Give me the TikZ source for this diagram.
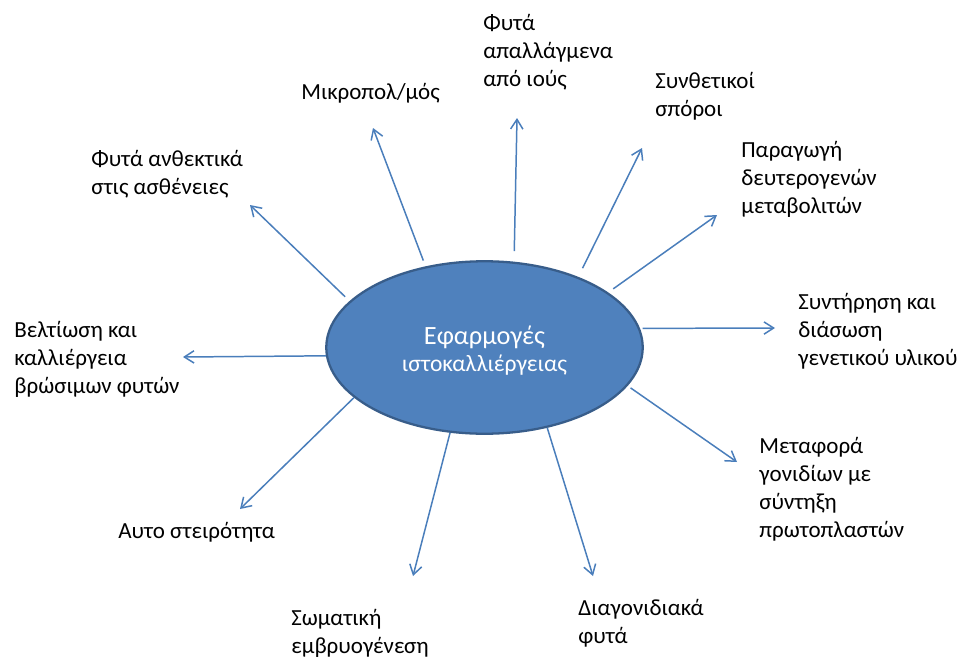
\documentclass[tikz,border=0pt]{standalone}
\usepackage{fontspec}
\setmainfont{Carlito}
\usetikzlibrary{arrows.meta,shapes.geometric}
\definecolor{ellfill}{HTML}{4F81BD}
\definecolor{elldraw}{HTML}{385D8A}
\definecolor{fleche}{HTML}{4A7EBB}
\tikzset{
  lbl/.style={anchor=base west, align=left, inner sep=0pt, font=\fontsize{13.1}{15.9}\selectfont},
  fl/.style={draw=fleche, line width=0.85pt, -{Straight Barb[length=5.5pt,width=7pt]}}
}
\begin{document}
\begin{tikzpicture}[x=0.02cm, y=-0.02cm]
\useasboundingbox (0,0) rectangle (960,656);
\node [ellipse, fill=ellfill, draw=elldraw, line width=1.3pt, minimum width=6.33cm, minimum height=3.45cm, inner sep=0pt] (appl) at (484.5,347.5) {};
\node [anchor=base, align=center, inner sep=0pt, text=white] (appltxt) at (484.5,371)
  {\fontsize{15}{15.9}\selectfont Εφαρμογές\\[3pt] \fontsize{13.4}{15.9}\selectfont ιστοκαλλιέργειας};
% labels placed by the baseline of their last line
\node [lbl] (lab1) at (483,86) {Φυτά\\απαλλάγμενα\\από ιούς};
\node [lbl] (lab2) at (655,116) {Συνθετικοί\\σπόροι};
\node [lbl] (lab3) at (741,213) {Παραγωγή\\δευτερογενών\\μεταβολιτών};
\node [lbl] (lab4) at (798,365) {Συντήρηση και\\διάσωση\\γενετικού υλικού};
\node [lbl] (lab5) at (759,537) {Μεταφορά\\γονιδίων με\\σύντηξη\\πρωτοπλαστών};
\node [lbl] (lab6) at (578,643) {Διαγονιδιακά\\φυτά};
\node [lbl] (lab7) at (291,653) {Σωματική\\εμβρυογένεση};
\node [lbl] (lab8) at (118,538) {Αυτο στειρότητα};
\node [lbl] (lab9) at (14,393) {Βελτίωση και\\καλλιέργεια\\βρώσιμων φυτών};
\node [lbl] (lab10) at (91,194) {Φυτά ανθεκτικά\\στις ασθένειες};
\node [lbl] (lab11) at (301,99) {Μικροπολ/μός};
% arrow tips
\coordinate (tip1) at (517,118);
\coordinate (tip2) at (642,148);
\coordinate (tip3) at (717,215);
\coordinate (tip4) at (775,328);
\coordinate (tip5) at (737,462);
\coordinate (tip6) at (593,576);
\coordinate (tip7) at (413,576);
\coordinate (tip8) at (240,509);
\coordinate (tip9) at (183,357);
\coordinate (tip10) at (250,205);
\coordinate (tip11) at (373,128);
\draw[fl, shorten <=6pt] (appl.71) -- (tip1);
\draw[fl, shorten <=5.5pt] (appl.37) -- (tip2);
\draw[fl, shorten <=3.5pt] (appl.24) -- (tip3);
\draw[fl, shorten <=1.5pt] (appl.7) -- (tip4);
\draw[fl, shorten <=2pt] (appl.-15) -- (tip5);
\draw[fl] (appl.-52) -- (tip6);
\draw[fl] (appl.-112) -- (tip7);
\draw[fl] (appl.201) -- (tip8);
\draw[fl] (appl.183) -- (tip9);
\draw[fl, shorten <=3.5pt] (appl.161) -- (tip10);
\draw[fl, shorten <=3.5pt] (appl.126) -- (tip11);
\end{tikzpicture}
\end{document}
